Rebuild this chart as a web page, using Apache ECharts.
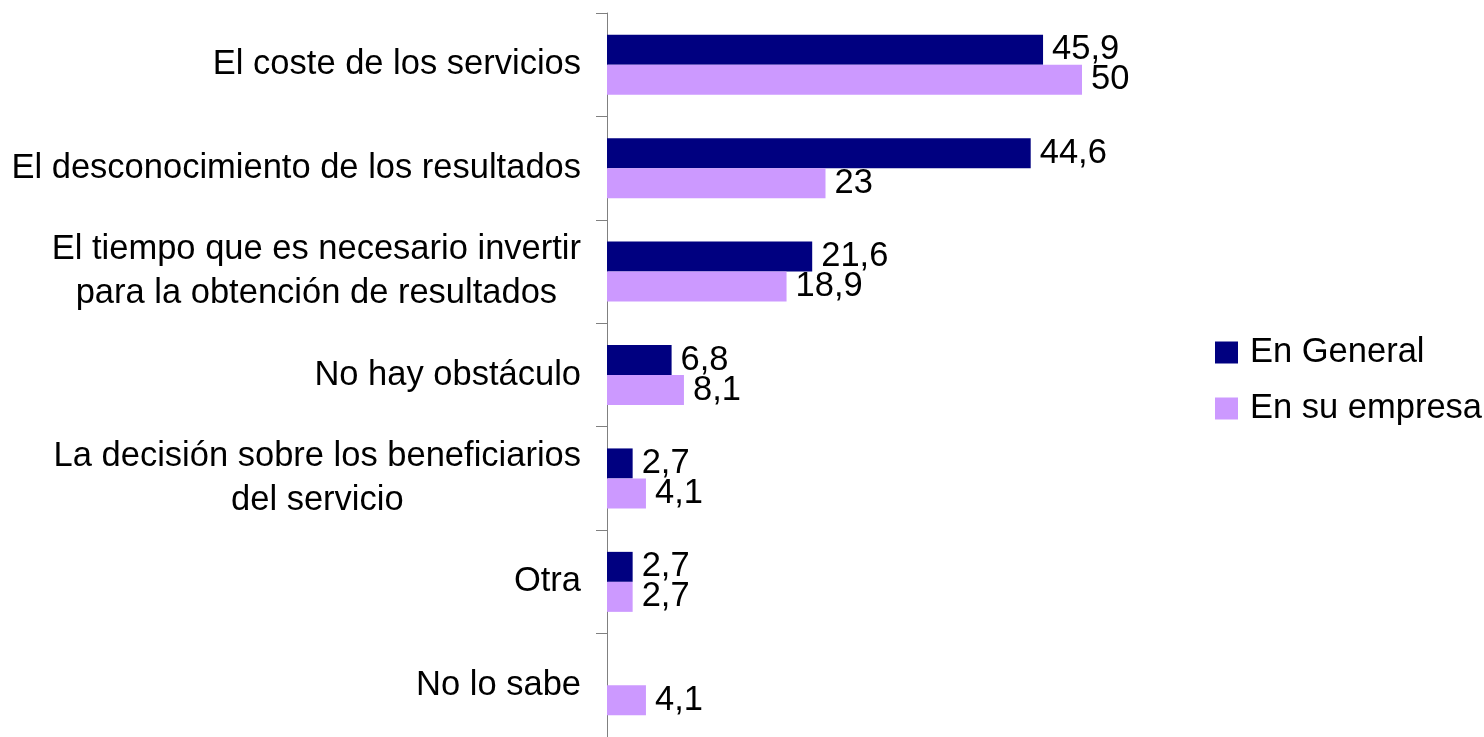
<!DOCTYPE html>
<html lang="es">
  <head>
    <meta charset="utf-8">
    <title>obstaculos</title>
    <script src="https://cdn.jsdelivr.net/npm/echarts@6/dist/echarts.min.js"></script>
    <style>
      html, body { margin: 0; padding: 0; background: #fff; }
      #chart { width: 1484px; height: 737px; }
    </style>
  </head>
  <body>
    <div id="chart"></div>
    <script>
      var categories = [
        "El coste de los servicios",
        "El desconocimiento de los resultados",
        "El tiempo que es necesario invertir\npara la obtención de resultados",
        "No hay obstáculo",
        "La decisión sobre los beneficiarios\ndel servicio",
        "Otra",
        "No lo sabe"
      ];
      var enGeneral = [45.9, 44.6, 21.6, 6.8, 2.7, 2.7, null];
      var enSuEmpresa = [50, 23, 18.9, 8.1, 4.1, 2.7, 4.1];

      var font = "'Liberation Sans', Arial, sans-serif";
      var fs = 34.5;

      // decimal comma, as in the original
      function fmt(p){
        return String(p.value).replace(".", ",");
      }

      var myChart = echarts.init(document.getElementById("chart"));
      myChart.setOption({
        animation: false,
        textStyle: { fontFamily: font },
        grid: { left: 607, top: 13, width: 570, height: 728 },
        legend: {
          orient: "vertical",
          left: 1215,
          top: 335,
          padding: 0,
          icon: "rect",
          itemWidth: 23,
          itemHeight: 22,
          itemGap: 21,
          textStyle: { fontSize: fs, color: "#000", fontFamily: font, lineHeight: 34, padding: [0, 0, 0, 7] },
          data: ["En General", "En su empresa"]
        },
        xAxis: { type: "value", min: 0, max: 60, show: false },
        yAxis: {
          type: "category",
          inverse: true,
          data: categories,
          axisLine: { lineStyle: { color: "#808080", width: 1 } },
          axisTick: { show: true, length: 11, lineStyle: { color: "#808080" } },
          axisLabel: {
            margin: 26,
            formatter: function(v){
              return v.split("\n").map(function(s){ return "{c|" + s + "}"; }).join("\n");
            },
            rich: {
              c: { fontSize: fs, color: "#000", fontFamily: font, lineHeight: 44, align: "center" }
            }
          }
        },
        series: [
          {
            name: "En General",
            type: "bar",
            data: enGeneral,
            barWidth: 30,
            barGap: "0%",
            itemStyle: { color: "#000080" },
            label: { show: true, position: "right", distance: 9, fontSize: fs, color: "#000", fontFamily: font, formatter: fmt }
          },
          {
            name: "En su empresa",
            type: "bar",
            data: enSuEmpresa,
            barWidth: 30,
            itemStyle: { color: "#CC99FF" },
            label: { show: true, position: "right", distance: 9, fontSize: fs, color: "#000", fontFamily: font, formatter: fmt }
          }
        ]
      });
    </script>
  </body>
</html>
